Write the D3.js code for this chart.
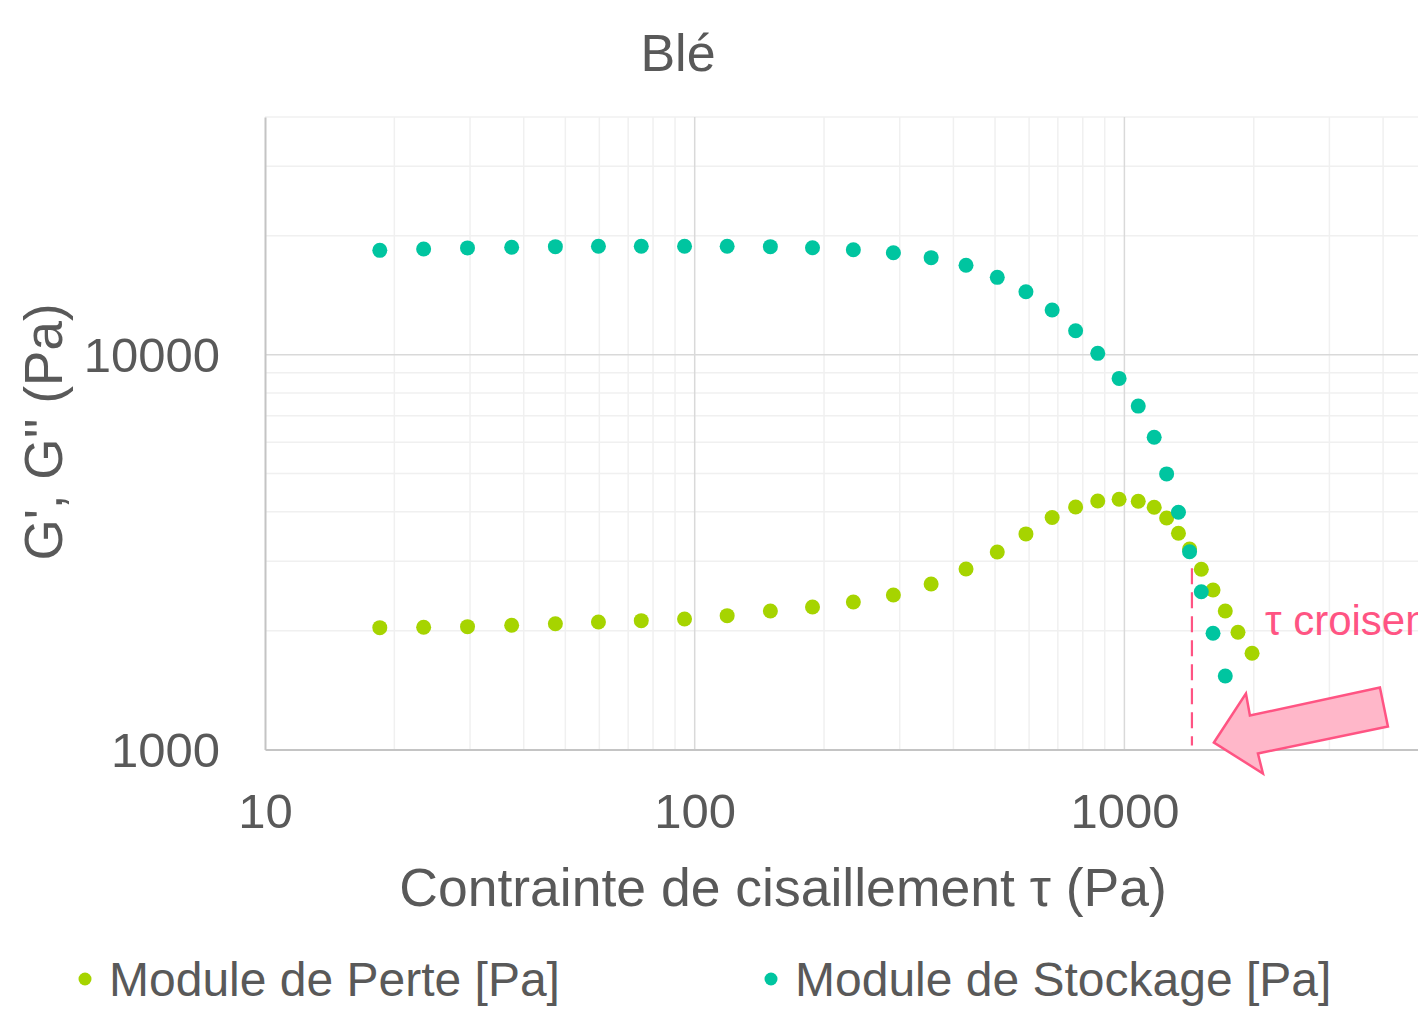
<!DOCTYPE html>
<html>
<head>
<meta charset="utf-8">
<script src="https://cdn.jsdelivr.net/npm/d3@7"></script>
<style>
  body { margin: 0; background: #fff; overflow: hidden; }
  text { font-family: "Liberation Sans", Arial, sans-serif; fill: #595959; }
</style>
</head>
<body>
<script>
// contrainte de cisaillement (Pa)
var tauPerte = [18.5, 23.4, 29.6, 37.5, 47.4, 59.7, 75.1, 94.7, 119, 150, 188, 234, 290, 355, 428,
  506, 590, 679, 770, 867, 972, 1077, 1173, 1254, 1336, 1418, 1510, 1608, 1717, 1838, 1982];
var tauStockage = tauPerte.slice(0, 29);

// module de perte G'' et module de stockage G' (Pa)
var modulePerte = [2035, 2040, 2047, 2064, 2083, 2104, 2120, 2141, 2183, 2243, 2296, 2364, 2462, 2626, 2866,
  3165, 3516, 3869, 4113, 4261, 4303, 4254, 4106, 3858, 3529, 3220, 2861, 2535, 2243, 1981, 1753];
var moduleStockage = [18380, 18520, 18640, 18710, 18780, 18820, 18820, 18820, 18820, 18780, 18660, 18450, 18130, 17610, 16850,
  15700, 14440, 12980, 11500, 10080, 8710, 7410, 6180, 4990, 3990, 3170, 2510, 1970, 1535];

var xTicks = [10, 100, 1000];
var yTicks = [1000, 10000];
var tauCroisement = 1436;

var series = [
  {name: "Module de Perte [Pa]", x: tauPerte, y: modulePerte, color: "#a6d400"},
  {name: "Module de Stockage [Pa]", x: tauStockage, y: moduleStockage, color: "#00c5a0"}
];

var width = 1418, height = 1016;
var plotLeft = 265, plotTop = 117, plotBottom = 749.5;

var svg = d3.select("body").append("svg")
  .attr("width", width)
  .attr("height", height);

// l'axe x va jusqu'a 10000, hors de la vue a droite
var x = d3.scaleLog().domain([10, 10000]).range([plotLeft, plotLeft + 3 * 429.7]);
var y = d3.scaleLog().domain([1000, 40000]).range([plotBottom, plotTop]);

// minor grid
var minorX = [], minorY = [];
[10, 100, 1000].forEach(function(d) {
  for (var k = 2; k <= 9; k++) minorX.push(d * k);
});
[1000, 10000].forEach(function(d) {
  for (var k = 2; k <= 9; k++) if (d * k <= 40000) minorY.push(d * k);
});

var grid = svg.append("g");
grid.selectAll(".mx").data(minorX).enter().append("line")
  .attr("x1", function(d) { return x(d); }).attr("x2", function(d) { return x(d); })
  .attr("y1", plotTop).attr("y2", plotBottom)
  .attr("stroke", "#f0f0f0").attr("stroke-width", 1.5);
grid.selectAll(".my").data(minorY).enter().append("line")
  .attr("x1", plotLeft).attr("x2", x(10000))
  .attr("y1", function(d) { return y(d); }).attr("y2", function(d) { return y(d); })
  .attr("stroke", "#f0f0f0").attr("stroke-width", 1.5);
grid.selectAll(".Mx").data(xTicks.slice(1).concat([10000])).enter().append("line")
  .attr("x1", function(d) { return x(d); }).attr("x2", function(d) { return x(d); })
  .attr("y1", plotTop).attr("y2", plotBottom)
  .attr("stroke", "#d9d9d9").attr("stroke-width", 1.5);
grid.selectAll(".My").data(yTicks.slice(1)).enter().append("line")
  .attr("x1", plotLeft).attr("x2", x(10000))
  .attr("y1", function(d) { return y(d); }).attr("y2", function(d) { return y(d); })
  .attr("stroke", "#d9d9d9").attr("stroke-width", 1.5);

// axes
var xAxis = svg.append("g")
  .attr("transform", "translate(0," + plotBottom + ")")
  .call(d3.axisBottom(x).tickValues(xTicks).tickSize(0).tickPadding(44).tickFormat(d3.format("d")));
var yAxis = svg.append("g")
  .attr("transform", "translate(" + plotLeft + ",0)")
  .call(d3.axisLeft(y).tickValues(yTicks).tickSize(0).tickPadding(45).tickFormat(d3.format("d")));
[xAxis, yAxis].forEach(function(a) {
  a.select(".domain").attr("stroke", "#c4c4c4").attr("stroke-width", 2);
  a.selectAll("text").style("font-size", "49px").attr("fill", "#595959")
    .style("font-family", "'Liberation Sans', Arial, sans-serif");
});
xAxis.selectAll("text").attr("dy", "0.71em");
yAxis.selectAll("text").attr("dy", "0.35em");

// points
series.forEach(function(s) {
  svg.append("g").selectAll("circle")
    .data(s.x.map(function(v, i) { return [v, s.y[i]]; }))
    .enter().append("circle")
    .attr("cx", function(d) { return x(d[0]); })
    .attr("cy", function(d) { return y(d[1]); })
    .attr("r", 7.5)
    .attr("fill", s.color);
});

// annotation : tau de croisement
var pink = "#ff5483";
var cx = x(tauCroisement);
svg.append("line")
  .attr("x1", cx).attr("x2", cx)
  .attr("y1", y(2880)).attr("y2", plotBottom - 4)
  .attr("stroke", pink).attr("stroke-width", 2.2)
  .attr("stroke-dasharray", "16,8");

svg.append("text")
  .attr("x", cx + 73).attr("y", 635)
  .style("font-size", "42px")
  .attr("fill", pink).style("fill", pink)
  .text("τ croisement");

var tipX = cx + 22, tipY = plotBottom - 7;
var arrow = [[0, 0], [32, -49], [36, -27], [166, -55], [174, -16], [44, 11], [49, 31]];
svg.append("polygon")
  .attr("points", arrow.map(function(p) { return (tipX + p[0]) + "," + (tipY + p[1]); }).join(" "))
  .attr("fill", "#ffb7c9")
  .attr("stroke", pink).attr("stroke-width", 2.5)
  .attr("stroke-linejoin", "miter");

// titles
svg.append("text")
  .attr("x", 678).attr("y", 71)
  .attr("text-anchor", "middle")
  .style("font-size", "52px")
  .text("Blé");

svg.append("text")
  .attr("x", 783).attr("y", 906)
  .attr("text-anchor", "middle")
  .style("font-size", "53.5px")
  .text("Contrainte de cisaillement τ (Pa)");

svg.append("text")
  .attr("transform", "translate(62,432) rotate(-90)")
  .attr("text-anchor", "middle")
  .style("font-size", "53px")
  .text("G', G'' (Pa)");

// legend
var legendX = [85, 771];
var legend = svg.append("g").selectAll("g")
  .data(series).enter().append("g")
  .attr("transform", function(d, i) { return "translate(" + legendX[i] + ",979)"; });
legend.append("circle").attr("r", 6.5).attr("fill", function(d) { return d.color; });
legend.append("text")
  .attr("x", 24).attr("y", 17)
  .style("font-size", "48px")
  .text(function(d) { return d.name; });
</script>
</body>
</html>
